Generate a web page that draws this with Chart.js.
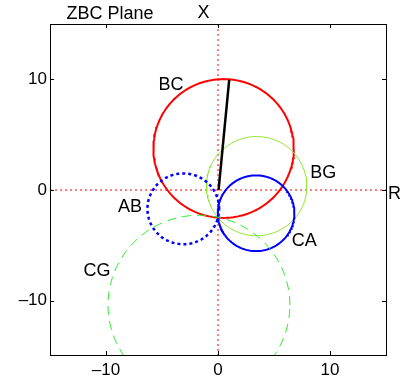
<!DOCTYPE html>
<html>
<head>
<meta charset="utf-8">
<script src="https://cdn.jsdelivr.net/npm/chart.js@4.4.0/dist/chart.umd.min.js"></script>
<style>
  html, body { margin: 0; padding: 0; background: #fff; }
  #wrap { width: 406px; height: 376px; position: relative; }
</style>
</head>
<body>
<div id="wrap"><canvas id="zbcChart"></canvas></div>
<script>
// axis range and ticks
var axisMin = -15, axisMax = 15;
var tickValues = [-10, 0, 10];

// circles: name, centre x, centre y, radius
var circleNames = ['BC', 'BG', 'CA', 'AB', 'CG'];
var circleCx = [0.5, 3.45, 3.4, -3.1, -1.7];
var circleCy = [3.75, 0.35, -2.1, -1.7, -10.4];
var circleR = [6.27, 4.48, 3.42, 3.2, 8.12];

// the black segment
var segX = [0.05, 1.0];
var segY = [0.0, 9.95];

// text labels placed in data coordinates
var labelText = ['BC', 'BG', 'AB', 'CA', 'CG', 'R', 'X', 'ZBC Plane'];
var labelX = [-4.2, 9.4, -7.85, 7.7, -10.8, 15.75, -1.3, -9.65];
var labelY = [9.45, 1.55, -1.55, -4.65, -7.3, -0.35, 16.0, 15.9];

var circleStyle = {
    BC: { color: '#ff0000', width: 2, dash: [] },
    BG: { color: '#8ee62a', width: 1, dash: [] },
    CA: { color: '#0000ff', width: 2, dash: [] },
    AB: { color: '#0000ff', width: 2.5, dash: [3, 3] },
    CG: { color: '#2ee82e', width: 1, dash: [9, 6] }
};

function circlePoints(cx, cy, r) {
    var pts = [];
    for (var i = 0; i <= 180; i++) {
        var a = i / 180 * 2 * Math.PI;
        pts.push({ x: cx + r * Math.cos(a), y: cy + r * Math.sin(a) });
    }
    return pts;
}

var datasets = [];

// dotted red axes through the origin
datasets.push({
    data: [{ x: axisMin, y: 0 }, { x: axisMax, y: 0 }],
    borderColor: '#ff0000', borderWidth: 1.2, borderDash: [2, 3], order: 10
});
datasets.push({
    data: [{ x: 0, y: axisMin }, { x: 0, y: axisMax }],
    borderColor: '#ff0000', borderWidth: 1, borderDash: [2, 3], order: 10
});

circleNames.forEach(function (name, i) {
    var st = circleStyle[name];
    datasets.push({
        label: name,
        data: circlePoints(circleCx[i], circleCy[i], circleR[i]),
        borderColor: st.color,
        borderWidth: st.width,
        borderDash: st.dash,
        order: 5 - i
    });
});

datasets.push({
    data: [{ x: segX[0], y: segY[0] }, { x: segX[1], y: segY[1] }],
    borderColor: '#000000', borderWidth: 2.5, order: 0
});

datasets.forEach(function (d) {
    d.showLine = true;
    d.pointRadius = 0;
    d.fill = false;
    d.tension = 0;
    d.borderCapStyle = 'butt';
});

var FONT = '"Liberation Sans", Arial, sans-serif';

// box, inward tick marks and text labels
var boxPlugin = {
    id: 'box',
    afterDatasetsDraw: function (chart) {
        var ctx = chart.ctx, a = chart.chartArea;
        var xs = chart.scales.x, ys = chart.scales.y;
        ctx.save();
        ctx.strokeStyle = '#000';
        ctx.lineWidth = 1;
        ctx.strokeRect(Math.round(a.left) + 0.5, Math.round(a.top) + 0.5,
            Math.round(a.right - a.left), Math.round(a.bottom - a.top) - 1);
        ctx.beginPath();
        tickValues.forEach(function (v) {
            var px = Math.round(xs.getPixelForValue(v)) + 0.5;
            ctx.moveTo(px, a.bottom - 1); ctx.lineTo(px, a.bottom - 5);
            ctx.moveTo(px, a.top); ctx.lineTo(px, a.top + 4);
            var py = Math.round(ys.getPixelForValue(v)) + 0.5;
            ctx.moveTo(a.left, py); ctx.lineTo(a.left + 4, py);
            ctx.moveTo(a.right, py); ctx.lineTo(a.right - 4, py);
        });
        ctx.stroke();

        ctx.fillStyle = '#000';
        ctx.font = '18px ' + FONT;
        ctx.textAlign = 'center';
        ctx.textBaseline = 'middle';
        labelText.forEach(function (t, i) {
            ctx.fillText(t, xs.getPixelForValue(labelX[i]), ys.getPixelForValue(labelY[i]));
        });
        ctx.restore();
    }
};

function tickLabel(v) {
    return v < 0 ? '\u2013' + Math.abs(v) : '' + v;
}

new Chart(document.getElementById('zbcChart'), {
    type: 'scatter',
    data: { datasets: datasets },
    options: {
        responsive: true,
        maintainAspectRatio: false,
        animation: false,
        layout: { padding: { top: 24, right: 20, left: 0, bottom: 0 } },
        plugins: { legend: { display: false }, tooltip: { enabled: false } },
        scales: {
            x: {
                type: 'linear', min: axisMin, max: axisMax,
                grid: { display: false, drawTicks: false },
                border: { display: false },
                afterBuildTicks: function (s) { s.ticks = tickValues.map(function (v) { return { value: v }; }); },
                afterFit: function (s) { s.height = 20; },
                ticks: { color: '#000', font: { family: FONT, size: 17 }, padding: 4, maxRotation: 0, callback: tickLabel }
            },
            y: {
                type: 'linear', min: axisMin, max: axisMax,
                grid: { display: false, drawTicks: false },
                border: { display: false },
                afterBuildTicks: function (s) { s.ticks = tickValues.map(function (v) { return { value: v }; }); },
                afterFit: function (s) { s.width = 50; },
                ticks: { color: '#000', font: { family: FONT, size: 17 }, padding: 3, callback: tickLabel }
            }
        }
    },
    plugins: [boxPlugin]
});
</script>
</body>
</html>
